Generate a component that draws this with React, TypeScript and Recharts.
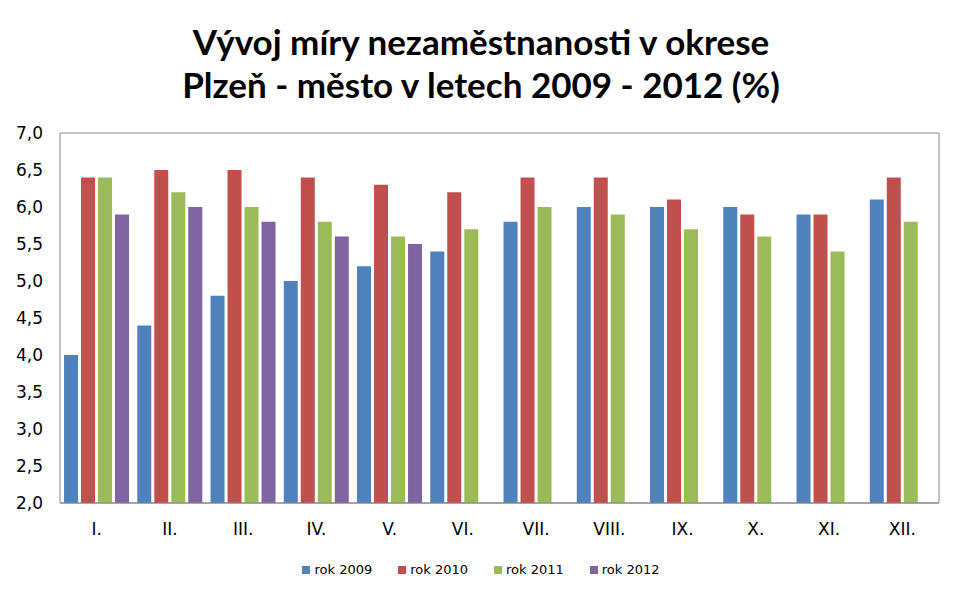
import { Bar, BarChart, CartesianGrid, XAxis, YAxis } from "recharts";

const months = ["I.", "II.", "III.", "IV.", "V.", "VI.", "VII.", "VIII.", "IX.", "X.", "XI.", "XII."];
const rok2009 = [4.0, 4.4, 4.8, 5.0, 5.2, 5.4, 5.8, 6.0, 6.0, 6.0, 5.9, 6.1];
const rok2010 = [6.4, 6.5, 6.5, 6.4, 6.3, 6.2, 6.4, 6.4, 6.1, 5.9, 5.9, 6.4];
const rok2011 = [6.4, 6.2, 6.0, 5.8, 5.6, 5.7, 6.0, 5.9, 5.7, 5.6, 5.4, 5.8];
const rok2012 = [5.9, 6.0, 5.8, 5.6, 5.5, null, null, null, null, null, null, null];
const yTicks = [2, 2.5, 3, 3.5, 4, 4.5, 5, 5.5, 6, 6.5, 7];

const series = [
  { key: "r2009", name: "rok 2009", color: "#4F81BD" },
  { key: "r2010", name: "rok 2010", color: "#C0504D" },
  { key: "r2011", name: "rok 2011", color: "#9BBB59" },
  { key: "r2012", name: "rok 2012", color: "#8064A2" },
];

const data = months.map((m, i) => ({
  month: m,
  r2009: rok2009[i],
  r2010: rok2010[i],
  r2011: rok2011[i],
  r2012: rok2012[i],
}));

const AXIS_FONT = "'DejaVu Sans', Verdana, sans-serif";

export default function App() {
  return (
    <div style={{ position: "absolute", left: 0, top: 0, width: 962, height: 600, background: "#fff" }}>
      <div
        style={{
          position: "absolute",
          left: 0,
          top: 20,
          width: 962,
          textAlign: "center",
          fontFamily: "Lato, 'Open Sans', sans-serif",
          fontWeight: 700,
          fontSize: 35,
          lineHeight: "43px",
          color: "#000",
        }}
      >
        <div>Vývoj míry nezaměstnanosti v okrese</div>
        <div>Plzeň - město v letech 2009 - 2012 (%)</div>
      </div>
      <BarChart
        width={962}
        height={600}
        data={data}
        margin={{ top: 133, right: 0, bottom: 57, left: 0 }}
        barCategoryGap="5.5%"
        barGap={3}
      >
        <CartesianGrid vertical={false} stroke="#868686" />
        <XAxis
          dataKey="month"
          stroke="#868686"
          tickLine={false}
          tickSize={0}
          tickMargin={20}
          height={40}
          tick={{ fill: "#000", fontSize: 17, fontFamily: AXIS_FONT }}
        />
        <YAxis
          yAxisId="left"
          domain={[2, 7]}
          ticks={yTicks}
          width={60}
          stroke="#868686"
          tickLine={false}
          tickSize={0}
          tickMargin={17}
          tickFormatter={(v: number) => v.toFixed(1).replace(".", ",")}
          tick={{ fill: "#000", fontSize: 17, fontFamily: AXIS_FONT }}
        />
        <YAxis yAxisId="right" orientation="right" width={23} domain={[2, 7]} tick={false} tickLine={false} stroke="#868686" />
        {series.map((s) => (
          <Bar key={s.key} yAxisId="left" dataKey={s.key} name={s.name} fill={s.color} isAnimationActive={false} />
        ))}
      </BarChart>
      <div
        style={{
          position: "absolute",
          left: 0,
          top: 562,
          width: 962,
          display: "flex",
          justifyContent: "center",
          gap: 26,
          fontFamily: AXIS_FONT,
          fontSize: 13,
          color: "#000",
        }}
      >
        {series.map((s) => (
          <div key={s.key} style={{ display: "flex", alignItems: "center", gap: 4 }}>
            <span style={{ display: "inline-block", width: 8, height: 8, background: s.color }} />
            <span>{s.name}</span>
          </div>
        ))}
      </div>
    </div>
  );
}
